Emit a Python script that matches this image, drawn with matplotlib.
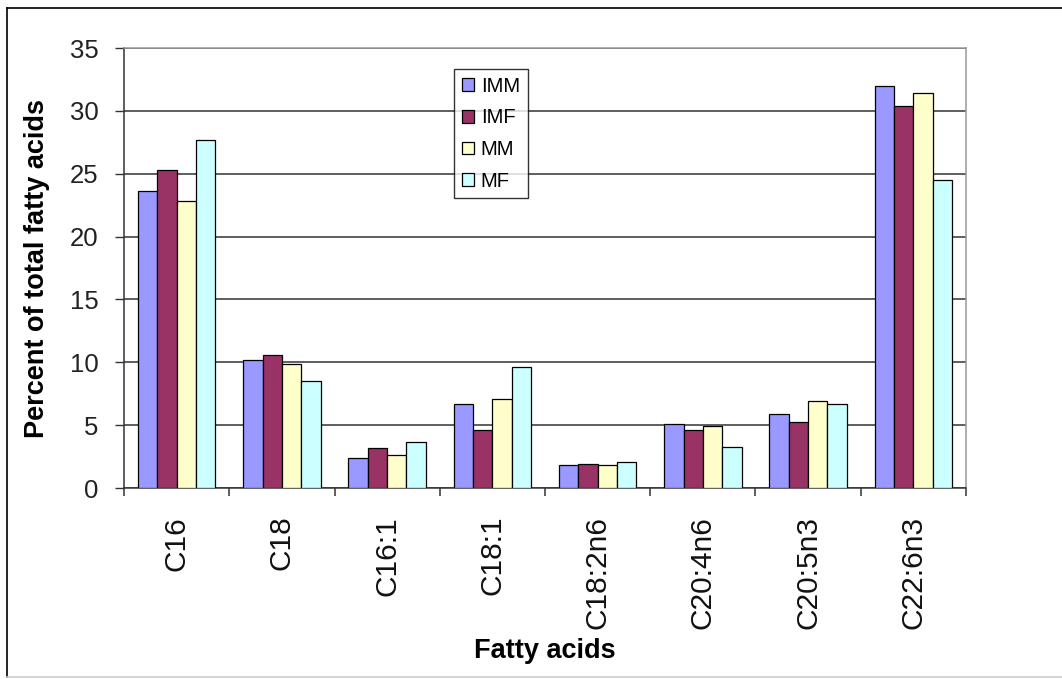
import matplotlib
matplotlib.use("Agg")
import matplotlib.pyplot as plt
import numpy as np
from matplotlib.lines import Line2D

categories = ["C16", "C18", "C16:1", "C18:1", "C18:2n6", "C20:4n6", "C20:5n3", "C22:6n3"]
series_names = ["IMM", "IMF", "MM", "MF"]
imm = [23.6, 10.2, 2.35, 6.7, 1.8, 5.1, 5.9, 32.0]
imf = [25.3, 10.55, 3.15, 4.6, 1.9, 4.65, 5.25, 30.4]
mm = [22.8, 9.9, 2.65, 7.05, 1.8, 4.9, 6.95, 31.4]
mf = [27.7, 8.5, 3.65, 9.6, 2.05, 3.3, 6.65, 24.5]
colors = ["#9999FF", "#993366", "#FFFFCC", "#CCFFFF"]
yticks = [0, 5, 10, 15, 20, 25, 30, 35]

plt.rcParams['font.family'] = ['Liberation Sans', 'DejaVu Sans']

W, H = 1062, 679
fig = plt.figure(figsize=(W / 100, H / 100), dpi=100)
ax = fig.add_axes([124 / W, 1 - 488 / H, (966 - 124) / W, (488 - 48) / H])

x = np.arange(len(categories))
bw = 0.184
data = [imm, imf, mm, mf]
for i, (vals, c, name) in enumerate(zip(data, colors, series_names)):
    ax.bar(x + (i - 1.5) * bw, vals, width=bw, color=c, edgecolor="black",
           linewidth=0.9, label=name, zorder=3)

ax.set_xlim(-0.5, len(categories) - 0.5)
ax.set_ylim(0, 35)
ax.set_yticks(yticks)
ax.set_yticklabels([str(v) for v in yticks], fontsize=18.5, color="#222222")
ax.yaxis.grid(True, color="#333333", linewidth=1.1, zorder=0)
ax.set_axisbelow(True)

ax.set_xticks(x)
ax.set_xticklabels(categories, rotation=90, fontsize=21.5, color="#111111")
ax.set_xticks(np.arange(-0.5, len(categories), 1.0), minor=True)
ax.tick_params(axis="x", which="major", length=0, pad=20)
ax.tick_params(axis="x", which="minor", length=6, width=1.1, color="#333333", direction="out")
ax.tick_params(axis="y", length=6.5, width=1.0, color="#333333", direction="out", pad=12)

for s in ["left", "bottom"]:
    ax.spines[s].set_color("#333333")
    ax.spines[s].set_linewidth(1.1)
for s in ["top", "right"]:
    ax.spines[s].set_color("#999999")
    ax.spines[s].set_linewidth(1.1)

ax.set_ylabel("Percent of total fatty acids", fontsize=19.5, fontweight="bold")
ax.yaxis.set_label_coords((50 - 124) / (966 - 124), 0.5)
fig.text(545 / W, 1 - 651 / H, "Fatty acids", fontsize=19.5, fontweight="bold",
         ha="center", va="center")

leg = ax.legend(loc="upper left", bbox_to_anchor=(454 / W, 1 - 69 / H),
                bbox_transform=fig.transFigure, fontsize=14.5, frameon=True,
                fancybox=False, edgecolor="black", borderaxespad=0,
                handlelength=0.6, handleheight=0.6, handletextpad=0.35,
                labelspacing=0.63, borderpad=0.38)
leg.get_frame().set_linewidth(1.0)

# figure border
fig.add_artist(Line2D([7 / W, 1], [1 - 8 / H, 1 - 8 / H], transform=fig.transFigure,
                      color="black", linewidth=1.2))
fig.add_artist(Line2D([7 / W, 7 / W], [1 - 8 / H, 1 - 677 / H], transform=fig.transFigure,
                      color="black", linewidth=1.2))
fig.add_artist(Line2D([7 / W, 1], [1 - 677 / H, 1 - 677 / H], transform=fig.transFigure,
                      color="#cccccc", linewidth=1.2))

fig.savefig("out.png", dpi=100)
